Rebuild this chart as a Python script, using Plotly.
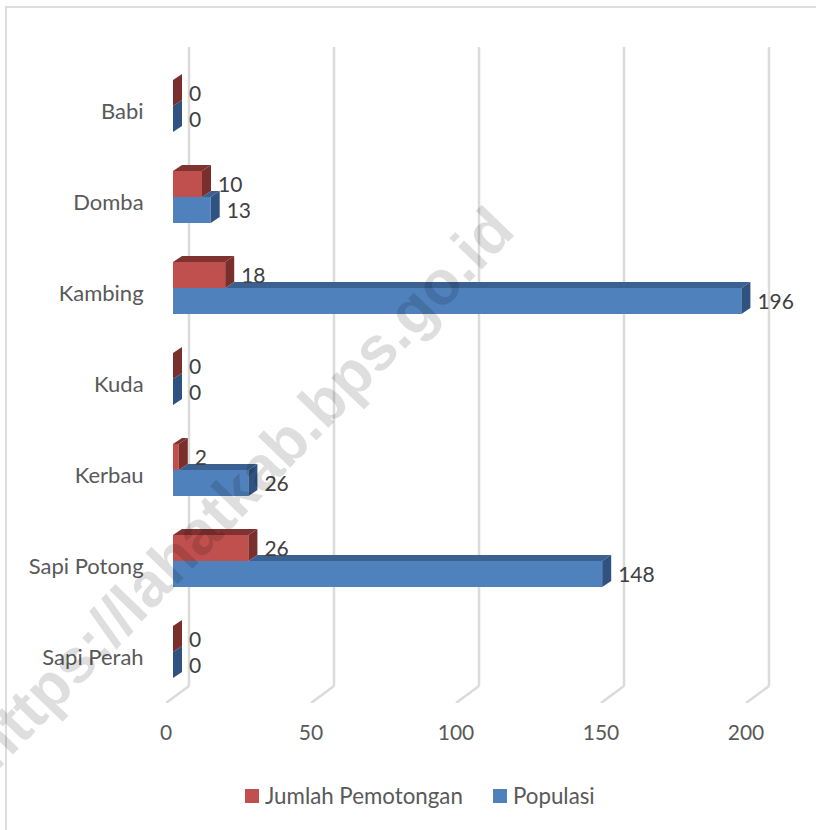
import plotly.graph_objects as go

categories = ["Sapi Perah", "Sapi Potong", "Kerbau", "Kuda", "Kambing", "Domba", "Babi"]
jumlah_pemotongan = [0, 26, 2, 0, 18, 10, 0]
populasi = [0, 148, 26, 0, 196, 13, 0]
x_ticks = [0, 50, 100, 150, 200]

W, H = 816, 830
L, R, T, B = 166, 12, 40, 127
PX_PER_UNIT = 2.9
PX_PER_CAT = 91.0
Y0_PX = 657.0
pw = W - L - R
ph = H - T - B
x_max = pw / PX_PER_UNIT
y_hi = (Y0_PX - T) / PX_PER_CAT
y_lo = (Y0_PX - (H - B)) / PX_PER_CAT


def ux(px):
    return px / PX_PER_UNIT


def uy(px):
    return px / PX_PER_CAT


BASE = ux(7)
DX, DY = ux(9), uy(6)
BAR_H = uy(26)
SPLIT = uy(5)
FONT = "Lato"
TXT = "#595959"
RED, RED_D, RED_S = "#C0504D", "#7F3230", "#7A2F2D"
BLUE, BLUE_D, BLUE_S = "#4F81BD", "#3A6190", "#2F5280"
ys = list(range(len(categories)))

fig = go.Figure()


def poly(xs, yy, color):
    fig.add_trace(go.Scatter(x=xs, y=yy, mode="lines", fill="toself", fillcolor=color,
                             line=dict(width=0, color=color), hoverinfo="skip", showlegend=False))


# front faces
fig.add_trace(go.Bar(name="Populasi", y=[i + SPLIT - BAR_H / 2 for i in ys], x=populasi, base=BASE,
                     orientation="h", width=BAR_H, marker=dict(color=BLUE, line_width=0)))
fig.add_trace(go.Bar(name="Jumlah Pemotongan", y=[i + SPLIT + BAR_H / 2 for i in ys], x=jumlah_pemotongan,
                     base=BASE, orientation="h", width=BAR_H, marker=dict(color=RED, line_width=0)))

# blue top and side, then red top and side
for i, (p, r) in enumerate(zip(populasi, jumlah_pemotongan)):
    e, s, y0 = BASE + p, BASE + r, i + SPLIT - BAR_H
    y1 = i + SPLIT
    poly([s, s + DX, e + DX, e, s], [y1, y1 + DY, y1 + DY, y1, y1], BLUE_D)
    poly([e, e + DX, e + DX, e, e], [y0, y0 + DY, y1 + DY, y1, y0], BLUE_S)
for i, r in enumerate(jumlah_pemotongan):
    e, y0 = BASE + r, i + SPLIT
    y1 = y0 + BAR_H
    poly([BASE, BASE + DX, e + DX, e, BASE], [y1, y1 + DY, y1 + DY, y1, y1], RED_D)
    poly([e, e + DX, e + DX, e, e], [y0, y0 + DY, y1 + DY, y1, y0], RED_S)

# value labels
label_off = ux(16)
NUM = dict(family=FONT, size=21, color="#404040")
fig.add_trace(go.Scatter(x=[BASE + v + label_off for v in populasi],
                         y=[i + SPLIT - BAR_H / 2 - uy(3) for i in ys], mode="text",
                         text=[str(v) for v in populasi], textposition="middle right",
                         textfont=NUM, showlegend=False, hoverinfo="skip"))
fig.add_trace(go.Scatter(x=[BASE + v + label_off for v in jumlah_pemotongan],
                         y=[i + SPLIT + BAR_H / 2 - uy(3) for i in ys], mode="text",
                         text=[str(v) for v in jumlah_pemotongan], textposition="middle right",
                         textfont=NUM, showlegend=False, hoverinfo="skip"))

# 3-D wall and floor gridlines, beneath the bars
GRID = "#DBDBDB"
shapes = []
back_dx = ux(23)
floor_back = uy(Y0_PX - 686)
for t in x_ticks:
    shapes.append(dict(type="line", xref="x", yref="y", layer="below", x0=t + back_dx, x1=t + back_dx,
                       y0=floor_back, y1=uy(Y0_PX - 47), line=dict(color=GRID, width=2.5)))
    shapes.append(dict(type="line", xref="x", yref="y", layer="below", x0=t, x1=t + back_dx,
                       y0=y_lo, y1=floor_back, line=dict(color=GRID, width=2.5)))


def paper_x(px):
    return (px - L) / pw


def paper_y(px):
    return (H - B - px) / ph


# chart frame: top and left edges only
shapes.append(dict(type="line", xref="paper", yref="paper", x0=paper_x(6), x1=paper_x(W),
                   y0=paper_y(7), y1=paper_y(7), line=dict(color="#DDDDDD", width=2)))
shapes.append(dict(type="line", xref="paper", yref="paper", x0=paper_x(6), x1=paper_x(6),
                   y0=paper_y(6), y1=paper_y(H), line=dict(color="#DDDDDD", width=2)))
# legend swatches
for x0, c in ((245, RED), (493, BLUE)):
    shapes.append(dict(type="rect", xref="paper", yref="paper", x0=paper_x(x0), x1=paper_x(x0 + 14),
                       y0=paper_y(803), y1=paper_y(789), fillcolor=c, line_width=0))

annotations = [
    dict(xref="paper", yref="paper", x=paper_x(263), y=paper_y(795), xanchor="left", yanchor="middle",
         text="Jumlah Pemotongan", showarrow=False, font=dict(family=FONT, size=22.3, color=TXT)),
    dict(xref="paper", yref="paper", x=paper_x(511), y=paper_y(795), xanchor="left", yanchor="middle",
         text="Populasi", showarrow=False, font=dict(family=FONT, size=22.3, color=TXT)),
    dict(xref="paper", yref="paper", x=paper_x(240), y=paper_y(488), xanchor="center", yanchor="middle",
         text="<b>https://lahatkab.bps.go.id</b>", textangle=-46, showarrow=False,
         font=dict(family="Liberation Sans", size=62, color="rgba(0,0,0,0.13)")),
]

fig.update_layout(
    width=W, height=H, margin=dict(l=L, r=R, t=T, b=B, pad=0), autosize=False,
    paper_bgcolor="white", plot_bgcolor="white", barmode="overlay", showlegend=False,
    shapes=shapes, annotations=annotations,
    xaxis=dict(range=[0, x_max], tickvals=x_ticks, ticktext=[str(t) for t in x_ticks], showgrid=False,
               zeroline=False, showline=False, ticks="outside", ticklen=11, tickcolor="rgba(0,0,0,0)",
               tickfont=dict(family=FONT, size=21, color=TXT)),
    yaxis=dict(range=[y_lo, y_hi], tickvals=ys, ticktext=categories, showgrid=False, zeroline=False,
               showline=False, ticks="outside", ticklen=17, tickcolor="rgba(0,0,0,0)",
               tickfont=dict(family=FONT, size=22, color=TXT)),
)
fig.write_html("out.html", config=dict(displayModeBar=False),
               post_script="document.body.style.margin='0';document.documentElement.style.overflow='hidden';")
